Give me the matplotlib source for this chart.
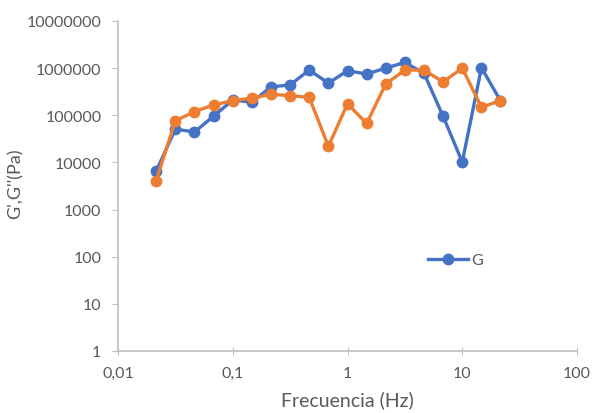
import matplotlib
matplotlib.use('Agg')
import matplotlib.pyplot as plt
import matplotlib.ticker as ticker

plt.rcParams['font.family'] = ['Lato', 'DejaVu Sans']

# Frecuencia (Hz)
frecuencia = [0.0215, 0.0316, 0.0464, 0.0681, 0.1, 0.147, 0.215, 0.316, 0.464, 0.681,
              1.0, 1.47, 2.15, 3.16, 4.64, 6.81, 10.0, 14.7, 21.5]
# G' (Pa)
g_prima = [6500, 51000, 44000, 96000, 210000, 190000, 400000, 440000, 910000, 480000,
           880000, 750000, 1000000, 1320000, 780000, 95000, 10200, 1020000, 205000]
# G'' (Pa)
g_dos = [4100, 76000, 120000, 165000, 205000, 230000, 280000, 260000, 240000, 22000,
         175000, 67000, 460000, 910000, 910000, 510000, 1000000, 148000, 205000]

x_ticks = [0.01, 0.1, 1, 10, 100]
x_labels = ['0,01', '0,1', '1', '10', '100']
y_ticks = [1, 10, 100, 1000, 10000, 100000, 1000000, 10000000]
y_labels = ['1', '10', '100', '1000', '10000', '100000', '1000000', '10000000']

azul = '#4472C4'
naranja = '#ED7D31'
gris = '#595959'

fig = plt.figure(figsize=(5.92, 4.14), dpi=100)
ax = fig.add_axes([0.1993, 0.1498, 0.7754, 0.7971])

ax.plot(frecuencia, g_prima, marker='o', color=azul, linewidth=2.4, markersize=7.5, label='G')
ax.plot(frecuencia, g_dos, marker='o', color=naranja, linewidth=2.4, markersize=7.5)

ax.set_xscale('log')
ax.set_yscale('log')
ax.set_xlim(0.01, 100)
ax.set_ylim(1, 10000000)

ax.xaxis.set_major_locator(ticker.FixedLocator(x_ticks))
ax.xaxis.set_major_formatter(ticker.FixedFormatter(x_labels))
ax.xaxis.set_minor_locator(ticker.NullLocator())
ax.yaxis.set_major_locator(ticker.FixedLocator(y_ticks))
ax.yaxis.set_major_formatter(ticker.FixedFormatter(y_labels))
ax.yaxis.set_minor_locator(ticker.NullLocator())

for lado in ['top', 'right']:
    ax.spines[lado].set_visible(False)
for lado in ['left', 'bottom']:
    ax.spines[lado].set_color('#bfbfbf')
    ax.spines[lado].set_linewidth(1.2)

ax.tick_params(axis='both', colors='#bfbfbf', labelcolor=gris, labelsize=11.5, length=4)
ax.tick_params(axis='x', direction='inout', length=6, pad=8)
ax.tick_params(axis='y', pad=8)

ax.set_xlabel('Frecuencia (Hz)', fontsize=14, color=gris, labelpad=7)
ax.set_ylabel("G',G''(Pa)", fontsize=13, color=gris)
ax.yaxis.set_label_coords(-0.205, 0.51)

ax.legend(loc='center left', bbox_to_anchor=(0.645, 0.275), frameon=False,
          fontsize=11.5, labelcolor=gris, handlelength=2.5, handletextpad=0.2)

fig.savefig('out.png', dpi=100)
